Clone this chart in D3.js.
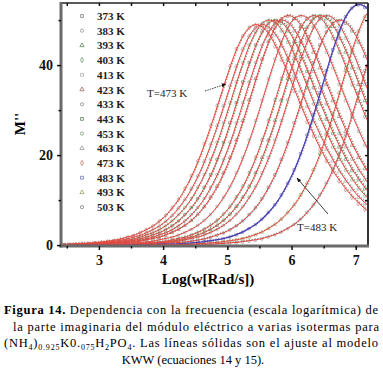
<!DOCTYPE html>
<html>
<head>
<meta charset="utf-8">
<script src="https://cdn.jsdelivr.net/npm/d3@7"></script>
<style>
body { margin: 0; background: #fff; }
svg { display: block; }
</style>
</head>
<body>
<svg width="383" height="371"></svg>
<script>
// isotherms shown in the legend
var temps = [373, 383, 393, 403, 413, 423, 433, 443, 453, 463, 473, 483, 493, 503];

// shared frequency grid, Log(w)
var logW = [2.45,2.55,2.65,2.75,2.85,2.95,3.05,3.15,3.25,3.35,3.45,3.55,3.65,3.75,3.85,3.95,4.05,4.15,4.25,4.35,4.45,4.55,4.65,4.75,4.85,4.95,5.05,5.15,5.25,5.35,5.45,5.55,5.65,5.75,5.85,5.95,6.05,6.15,6.25,6.35,6.45,6.55,6.65,6.75,6.85,6.95,7.05,7.15,7.25];

// M'' for each isotherm
var m373 = [0,0,0,0,0,0,0,0,0.1,0.1,0.1,0.1,0.1,0.2,0.2,0.3,0.4,0.5,0.6,0.7,0.9,1.1,1.4,1.8,2.3,2.8,3.5,4.4,5.5,6.9,8.5,10.5,13.0,15.8,19.2,23.0,27.3,31.8,36.4,40.7,44.6,47.5,49.4,50,49.4,47.7,45.2,42.1,38.7];
var m383 = [0,0,0,0,0,0,0.1,0.1,0.1,0.1,0.1,0.2,0.2,0.3,0.4,0.5,0.6,0.7,0.9,1.2,1.5,1.8,2.3,2.9,3.6,4.5,5.6,7.0,8.7,10.8,13.2,16.2,19.6,23.5,27.8,32.4,37.1,41.5,45.4,48.5,50.4,51,50.4,48.7,46.1,43.0,39.5,35.8,32.2];
var m393 = [0,0,0,0,0,0.1,0.1,0.1,0.1,0.1,0.2,0.2,0.3,0.4,0.5,0.6,0.7,0.9,1.2,1.5,1.8,2.3,2.9,3.6,4.5,5.6,7.0,8.7,10.8,13.2,16.2,19.6,23.5,27.8,32.4,37.1,41.5,45.4,48.5,50.4,51,50.4,48.7,46.1,43.0,39.5,35.8,32.2,28.7];
var m403 = [0,0,0,0,0.1,0.1,0.1,0.1,0.1,0.2,0.2,0.3,0.4,0.5,0.6,0.7,0.9,1.2,1.5,1.8,2.3,2.9,3.6,4.5,5.6,7.0,8.7,10.8,13.2,16.2,19.6,23.5,27.8,32.4,37.1,41.5,45.4,48.5,50.4,51,50.4,48.7,46.1,43.0,39.5,35.8,32.2,28.7,25.4];
var m413 = [0,0,0.1,0.1,0.1,0.1,0.1,0.2,0.2,0.3,0.4,0.5,0.6,0.7,0.9,1.2,1.5,1.8,2.3,2.9,3.6,4.5,5.6,7.0,8.7,10.8,13.2,16.2,19.6,23.5,27.8,32.4,37.1,41.5,45.4,48.5,50.4,51,50.4,48.7,46.1,43.0,39.5,35.8,32.2,28.7,25.4,22.3,19.6];
var m423 = [0.1,0.1,0.1,0.1,0.1,0.2,0.2,0.3,0.4,0.5,0.6,0.7,0.9,1.2,1.5,1.8,2.3,2.9,3.6,4.5,5.6,7.0,8.7,10.8,13.2,16.2,19.6,23.5,27.8,32.4,37.1,41.5,45.4,48.5,50.4,51,50.4,48.7,46.1,43.0,39.5,35.8,32.2,28.7,25.4,22.3,19.6,17.1,14.9];
var m433 = [0.1,0.1,0.1,0.1,0.2,0.2,0.3,0.4,0.5,0.6,0.7,0.9,1.1,1.4,1.8,2.3,2.8,3.5,4.4,5.5,6.9,8.5,10.5,13.0,15.8,19.2,23.0,27.3,31.8,36.4,40.7,44.6,47.5,49.4,50,49.4,47.7,45.2,42.1,38.7,35.1,31.5,28.1,24.9,21.9,19.2,16.7,14.6,12.6];
var m443 = [0.1,0.1,0.1,0.2,0.2,0.3,0.4,0.5,0.6,0.7,0.9,1.1,1.4,1.8,2.3,2.8,3.5,4.4,5.5,6.9,8.5,10.5,13.0,15.8,19.2,23.0,27.3,31.8,36.4,40.7,44.6,47.5,49.4,50,49.4,47.7,45.2,42.1,38.7,35.1,31.5,28.1,24.9,21.9,19.2,16.7,14.6,12.6,11.0];
var m453 = [0.1,0.1,0.2,0.2,0.3,0.4,0.5,0.6,0.7,0.9,1.1,1.4,1.8,2.3,2.8,3.5,4.4,5.5,6.9,8.5,10.5,13.0,15.8,19.2,23.0,27.3,31.8,36.4,40.7,44.6,47.5,49.4,50,49.4,47.7,45.2,42.1,38.7,35.1,31.5,28.1,24.9,21.9,19.2,16.7,14.6,12.6,11.0,9.5];
var m463 = [0.1,0.2,0.2,0.3,0.4,0.4,0.6,0.7,0.9,1.1,1.4,1.8,2.2,2.8,3.5,4.3,5.4,6.7,8.4,10.3,12.7,15.5,18.8,22.6,26.7,31.1,35.6,39.9,43.7,46.6,48.4,49,48.4,46.8,44.3,41.3,37.9,34.4,30.9,27.5,24.4,21.4,18.8,16.4,14.3,12.4,10.7,9.3,8.0];
var m473 = [0.2,0.2,0.3,0.4,0.4,0.6,0.7,0.9,1.1,1.4,1.8,2.2,2.8,3.5,4.3,5.4,6.7,8.4,10.3,12.7,15.5,18.8,22.6,26.7,31.1,35.6,39.9,43.7,46.6,48.4,49,48.4,46.8,44.3,41.3,37.9,34.4,30.9,27.5,24.4,21.4,18.8,16.4,14.3,12.4,10.7,9.3,8.0,6.9];
var m483 = [0,0,0,0,0,0,0,0,0,0,0,0.1,0.1,0.1,0.1,0.2,0.2,0.2,0.3,0.4,0.5,0.6,0.8,1.0,1.2,1.5,1.9,2.4,3.0,3.8,4.7,5.9,7.4,9.1,11.3,13.9,16.9,20.5,24.6,29.2,34.0,38.9,43.6,47.7,50.9,52.8,53.5,52.9,51.1];
var m493 = [0,0,0,0,0,0,0,0,0,0,0,0,0,0,0.1,0.1,0.1,0.1,0.2,0.2,0.2,0.3,0.4,0.5,0.6,0.8,1.0,1.2,1.5,1.9,2.4,3.0,3.8,4.7,5.9,7.4,9.1,11.3,13.9,16.9,20.5,24.6,29.2,34.0,38.9,43.6,47.7,50.9,52.8];
var m503 = [0,0,0,0,0,0,0,0,0,0,0,0,0,0,0,0,0,0.1,0.1,0.1,0.1,0.2,0.2,0.2,0.3,0.4,0.5,0.6,0.8,1.0,1.2,1.5,1.9,2.4,3.0,3.8,4.7,5.9,7.4,9.1,11.3,13.9,16.9,20.5,24.6,29.2,34.0,38.9,43.6];

var allSeries = [m373, m383, m393, m403, m413, m423, m433, m443, m453, m463, m473, m483, m493, m503];

// marker colours of the measured points
var dataColors = ["#8c8c8c", "#a0a0a0", "#6f946f", "#7f9f7f", "#b4b4b4", "#a07a70", "#9a9a9a",
                  "#6d8f6d", "#88a888", "#a8a8a8", "#c48a80", "#8080c0", "#a8a878", "#909090"];
var symbols = [d3.symbolSquare, d3.symbolCircle, d3.symbolTriangle, d3.symbolDiamond,
               d3.symbolSquare, d3.symbolTriangle, d3.symbolCircle];

var svg = d3.select("svg");
var padL = 61, padR = 368, padT = 3, padB = 246;

var x = d3.scaleLinear().domain([2.41, 7.19]).range([padL, padR]);
var y = d3.scaleLinear().domain([-0.2, 53.8]).range([padB, padT]);

var defs = svg.append("defs");
defs.append("clipPath").attr("id", "plotclip")
  .append("rect").attr("x", padL).attr("y", padT).attr("width", padR - padL).attr("height", padB - padT);

defs.append("marker")
  .attr("id", "arrow").attr("viewBox", "0 0 10 10").attr("refX", 9).attr("refY", 5)
  .attr("markerWidth", 6).attr("markerHeight", 6).attr("orient", "auto")
  .append("path").attr("d", "M0,1L10,5L0,9Z").attr("fill", "#111");

var plot = svg.append("g").attr("clip-path", "url(#plotclip)");

var line = d3.line()
  .x(function(d) { return x(d[0]); })
  .y(function(d) { return y(d[1]); })
  .curve(d3.curveCatmullRom);

var pointSets = allSeries.map(function(s) {
  return logW.map(function(w, j) { return [w, s[j]]; });
});

// measured points (drawn as dense speckled traces)
pointSets.forEach(function(pts, i) {
  plot.append("path").datum(pts)
    .attr("d", line)
    .attr("fill", "none")
    .attr("stroke", dataColors[i])
    .attr("stroke-width", 1.8)
    .attr("stroke-dasharray", "1.2,1.6")
    .attr("transform", "translate(0.8,-0.6)");
  plot.selectAll(null).data(pts).enter().append("path")
    .attr("d", d3.symbol().type(symbols[i % symbols.length]).size(5))
    .attr("transform", function(d) { return "translate(" + (x(d[0]) - 0.8) + "," + (y(d[1]) + 0.6) + ")"; })
    .attr("fill", "none")
    .attr("stroke", dataColors[i])
    .attr("stroke-width", 0.7);
});

// KWW fits
pointSets.forEach(function(pts, i) {
  plot.append("path").datum(pts)
    .attr("d", line)
    .attr("fill", "none")
    .attr("stroke", temps[i] === 483 ? "#4a3fb0" : "#e4473e")
    .attr("stroke-width", temps[i] === 483 ? 1.3 : 1);
});

// frame
svg.append("line").attr("x1", padL).attr("x2", padR).attr("y1", padT).attr("y2", padT)
  .attr("stroke", "#5a5a5a").attr("stroke-width", 2);
svg.append("line").attr("x1", padR).attr("x2", padR).attr("y1", padT).attr("y2", padB)
  .attr("stroke", "#333").attr("stroke-width", 2);
svg.append("line").attr("x1", padL).attr("x2", padL).attr("y1", padT - 1).attr("y2", padB + 1.5)
  .attr("stroke", "#6a6a6a").attr("stroke-width", 3);
svg.append("line").attr("x1", padL - 1.5).attr("x2", padR + 1).attr("y1", padB).attr("y2", padB)
  .attr("stroke", "#6a6a6a").attr("stroke-width", 3);

// axes
var serif = "Liberation Serif";

var xAxis = svg.append("g").attr("transform", "translate(0," + padB + ")")
  .call(d3.axisBottom(x).tickValues([3, 4, 5, 6, 7]).tickSize(4).tickPadding(5).tickFormat(d3.format("d")));
var xMinor = svg.append("g").attr("transform", "translate(0," + padB + ")")
  .call(d3.axisBottom(x).tickValues([2.5, 3.5, 4.5, 5.5, 6.5, 7]).tickSize(2.5).tickFormat(""));
var yAxis = svg.append("g").attr("transform", "translate(" + padL + ",0)")
  .call(d3.axisLeft(y).tickValues([0, 20, 40]).tickSize(4).tickPadding(4));
var yMinor = svg.append("g").attr("transform", "translate(" + padL + ",0)")
  .call(d3.axisLeft(y).tickValues([10, 30, 50]).tickSize(2.5).tickFormat(""));
var xTop = svg.append("g").attr("transform", "translate(0," + padT + ")")
  .call(d3.axisTop(x).tickValues([2.5, 3, 3.5, 4, 4.5, 5, 5.5, 6, 6.5, 7]).tickSize(-3).tickFormat(""));
var yRight = svg.append("g").attr("transform", "translate(" + padR + ",0)")
  .call(d3.axisRight(y).tickValues([10, 20, 30, 40, 50]).tickSize(-3).tickFormat(""));

[xAxis, xMinor, yAxis, yMinor, xTop, yRight].forEach(function(g) {
  g.select(".domain").remove();
  g.selectAll(".tick line").attr("stroke", "#111").attr("stroke-width", 1.5);
  g.selectAll("text")
    .attr("font-family", serif)
    .attr("font-weight", "bold")
    .attr("font-size", 14)
    .attr("fill", "#111");
});

// axis titles
svg.append("text")
  .attr("x", 208).attr("y", 284)
  .attr("text-anchor", "middle")
  .attr("font-family", serif).attr("font-weight", "bold").attr("font-size", 15)
  .text("Log(w[Rad/s])");

svg.append("text")
  .attr("transform", "translate(25,124) rotate(-90)")
  .attr("text-anchor", "middle")
  .attr("font-family", serif).attr("font-weight", "bold").attr("font-size", 15)
  .text("M''");

// legend
var legend = svg.append("g");
temps.forEach(function(t, i) {
  var ly = 16 + i * 14.7;
  legend.append("path")
    .attr("d", d3.symbol().type(symbols[i % symbols.length]).size(8))
    .attr("transform", "translate(82," + ly + ")")
    .attr("fill", "none")
    .attr("stroke", dataColors[i])
    .attr("stroke-width", 0.9);
  legend.append("text")
    .attr("x", 97).attr("y", ly + 4)
    .attr("font-family", serif).attr("font-weight", "bold").attr("font-size", 11)
    .attr("fill", "#222")
    .text(t + " K");
});

// annotations
svg.append("text").attr("x", 147).attr("y", 97)
  .attr("font-family", serif).attr("font-size", 11).attr("fill", "#222")
  .text("T=473 K");
svg.append("line").attr("x1", 205).attr("y1", 91).attr("x2", 226).attr("y2", 84)
  .attr("stroke", "#111").attr("stroke-width", 0.8).attr("stroke-dasharray", "1.5,1")
  .attr("marker-end", "url(#arrow)");

svg.append("text").attr("x", 297).attr("y", 231)
  .attr("font-family", serif).attr("font-size", 11).attr("fill", "#222")
  .text("T=483 K");
svg.append("line").attr("x1", 328).attr("y1", 214).attr("x2", 297).attr("y2", 178)
  .attr("stroke", "#111").attr("stroke-width", 0.8)
  .attr("marker-end", "url(#arrow)");

// caption
var cap = svg.append("g")
  .attr("font-family", serif)
  .attr("font-size", 12.5).attr("fill", "#000");

var l1 = cap.append("text").attr("x", 4).attr("y", 314)
  .attr("textLength", 374).attr("lengthAdjust", "spacing");
l1.append("tspan").attr("font-weight", "bold").text("Figura 14.");
l1.append("tspan").text(" Dependencia con la frecuencia (escala logarítmica) de");

cap.append("text").attr("x", 13).attr("y", 330.5)
  .attr("textLength", 366).attr("lengthAdjust", "spacing")
  .text("la parte imaginaria del módulo eléctrico a varias isotermas para");

var l3 = cap.append("text").attr("x", 4).attr("y", 347)
  .attr("textLength", 374).attr("lengthAdjust", "spacing");
var parts = [["(NH", 0], ["4", 1], [")", 0], ["0.925", 1], ["K0.", 0], ["075", 1],
             ["H", 0], ["2", 1], ["PO", 0], ["4", 1], [". Las líneas sólidas son el ajuste al modelo", 0]];
var prevSub = 0;
parts.forEach(function(p) {
  var ts = l3.append("tspan").text(p[0]);
  if (p[1] !== prevSub) ts.attr("dy", p[1] ? 3 : -3);
  if (p[1]) ts.attr("font-size", 8);
  prevSub = p[1];
});

cap.append("text").attr("x", 193).attr("y", 363.5)
  .attr("text-anchor", "middle")
  .text("KWW (ecuaciones 14 y 15).");
</script>
</body>
</html>
